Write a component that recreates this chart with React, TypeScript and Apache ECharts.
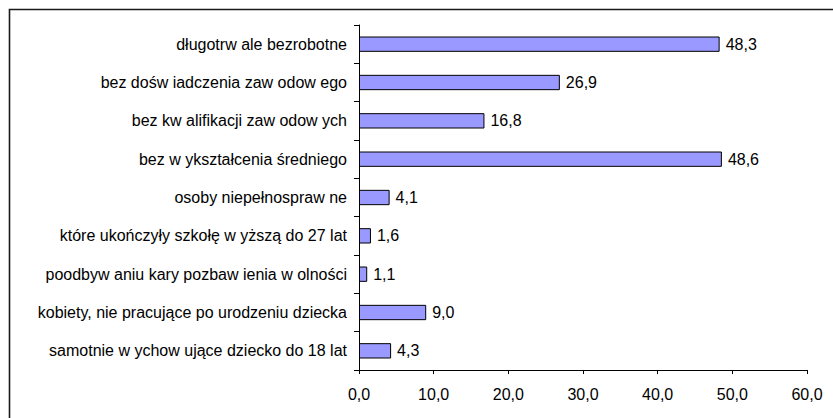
import React, { useEffect, useRef } from "react";
import * as echarts from "echarts";

const categories: string[] = [
  "długotrw ale bezrobotne",
  "bez dośw iadczenia zaw odow ego",
  "bez kw alifikacji zaw odow ych",
  "bez w ykształcenia średniego",
  "osoby niepełnospraw ne",
  "które ukończyły szkołę w yższą do 27 lat",
  "poodbyw aniu kary pozbaw ienia w olności",
  "kobiety, nie pracujące po urodzeniu dziecka",
  "samotnie w ychow ujące dziecko do 18 lat",
];
const values: number[] = [48.3, 26.9, 16.8, 48.6, 4.1, 1.6, 1.1, 9.0, 4.3];
const xMin = 0;
const xMax = 60;
const xInterval = 10;

const fmt = (v: number) => v.toFixed(1).replace(".", ",");
const FONT = "'Liberation Sans', Arial, sans-serif";

export default function App() {
  const ref = useRef<HTMLDivElement>(null);
  useEffect(() => {
    if (!ref.current) return;
    const chart = echarts.init(ref.current, undefined, { renderer: "svg" });
    chart.setOption({
      animation: false,
      backgroundColor: "#ffffff",
      textStyle: { fontFamily: FONT },
      grid: { left: 359, right: 26, top: 25, bottom: 48, containLabel: false },
      graphic: [
        {
          type: "rect",
          silent: true,
          shape: { x: 9.5, y: 9.5, width: 860, height: 440 },
          style: { fill: "none", stroke: "#1a1a1a", lineWidth: 1.6 },
          z: 100,
        },
      ],
      xAxis: {
        type: "value",
        min: xMin,
        max: xMax,
        interval: xInterval,
        axisLine: { show: true, lineStyle: { color: "#000", width: 1 } },
        axisTick: { show: true, length: 4, lineStyle: { color: "#000" } },
        splitLine: { show: false },
        axisLabel: {
          color: "#000",
          fontSize: 16,
          fontFamily: FONT,
          margin: 16,
          formatter: (v: number) => fmt(v),
        },
      },
      yAxis: {
        type: "category",
        data: categories,
        inverse: true,
        axisLine: { show: true, lineStyle: { color: "#000", width: 1 } },
        axisTick: { show: true, length: 5, alignWithLabel: false, lineStyle: { color: "#000" } },
        axisLabel: { color: "#000", fontSize: 16, fontFamily: FONT, margin: 12 },
        splitLine: { show: false },
      },
      series: [
        {
          type: "bar",
          data: values,
          barWidth: "40%",
          itemStyle: { color: "#9999FF", borderColor: "#000", borderWidth: 1 },
          label: {
            show: true,
            position: "right",
            distance: 6,
            color: "#000",
            fontSize: 16,
            fontFamily: FONT,
            formatter: (p: any) => fmt(p.value),
          },
        },
      ],
    });
    return () => chart.dispose();
  }, []);
  return (
    <div
      ref={ref}
      style={{ position: "absolute", left: 0, top: 0, width: 833, height: 418 }}
    />
  );
}
